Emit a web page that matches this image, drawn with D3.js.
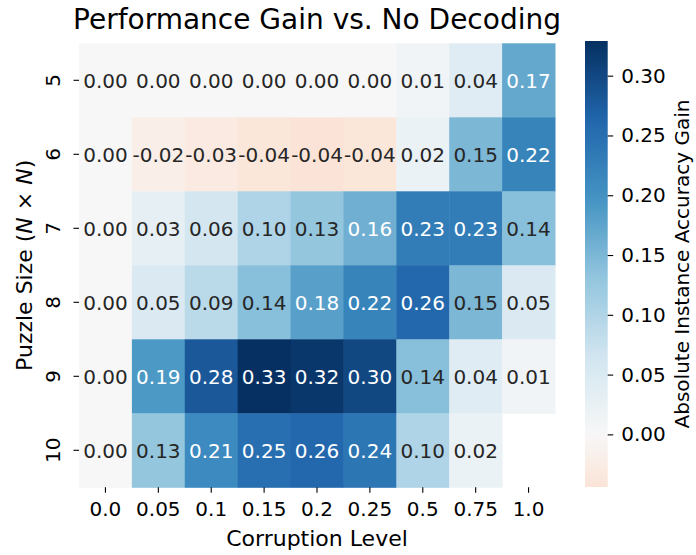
<!DOCTYPE html>
<html>
<head>
<meta charset="utf-8">
<script src="https://cdn.jsdelivr.net/npm/d3@7"></script>
<style>
  body { margin: 0; background: #fff; }
  svg { display: block; font-family: "DejaVu Sans", sans-serif; }
</style>
</head>
<body>
<div id="chart"></div>
<script>
// corruption levels (columns) and puzzle sizes (rows)
const corruption = ["0.0", "0.05", "0.1", "0.15", "0.2", "0.25", "0.5", "0.75", "1.0"];
const puzzleSizes = ["5", "6", "7", "8", "9", "10"];

// absolute instance accuracy gain, one array per puzzle size (null = missing)
const gain5  = [0.00, 0.00, 0.00, 0.00, 0.00, 0.00, 0.01, 0.04, 0.17];
const gain6  = [0.00, -0.02, -0.03, -0.04, -0.044, -0.04, 0.02, 0.15, 0.22];
const gain7  = [0.00, 0.03, 0.06, 0.10, 0.13, 0.16, 0.23, 0.23, 0.14];
const gain8  = [0.00, 0.05, 0.09, 0.14, 0.18, 0.22, 0.26, 0.15, 0.05];
const gain9  = [0.00, 0.19, 0.28, 0.329, 0.32, 0.30, 0.14, 0.04, 0.01];
const gain10 = [0.00, 0.13, 0.21, 0.25, 0.26, 0.24, 0.10, 0.02, null];
const gains = [gain5, gain6, gain7, gain8, gain9, gain10];

const cbarTicks = [0.00, 0.05, 0.10, 0.15, 0.20, 0.25, 0.30];

const width = 696, height = 555;
const margin = { left: 79, top: 43.3, right: 555, bottom: 487.3 };

const cells = [];
gains.forEach((row, i) => row.forEach((v, j) => {
    if (v !== null) cells.push({ row: puzzleSizes[i], col: corruption[j], value: v });
}));

const x = d3.scaleBand().domain(corruption).range([margin.left, margin.right]);
const y = d3.scaleBand().domain(puzzleSizes).range([margin.top, margin.bottom]);

// RdBu, re-centred on zero the way seaborn does with center=0
const rdbu = ["#67001f", "#b2182b", "#d6604d", "#f4a582", "#fddbc7", "#f7f7f7",
    "#d1e5f0", "#92c5de", "#4393c3", "#2166ac", "#053061"];
const cmap = d3.scaleLinear()
    .domain(d3.range(11).map(i => i / 10))
    .range(rdbu)
    .interpolate(d3.interpolateRgb);
const [vmin, vmax] = d3.extent(cells, d => d.value);
const vrange = Math.max(vmax, -vmin);
const norm = d3.scaleLinear().domain([-vrange, vrange]).range([0, 1]);
const color = v => cmap(norm(v));

function textColor(c) {
    const rgb = d3.rgb(c);
    const lin = [rgb.r, rgb.g, rgb.b].map(u => {
        u /= 255;
        return u <= 0.03928 ? u / 12.92 : Math.pow((u + 0.055) / 1.055, 2.4);
    });
    const lum = 0.2126 * lin[0] + 0.7152 * lin[1] + 0.0722 * lin[2];
    return lum > 0.408 ? "#262626" : "#ffffff";
}

const svg = d3.select("#chart").append("svg")
    .attr("width", width)
    .attr("height", height);

svg.append("rect").attr("width", width).attr("height", height).attr("fill", "#fff");

// cells
svg.append("g")
    .selectAll("rect")
    .data(cells)
    .join("rect")
    .attr("x", d => x(d.col))
    .attr("y", d => y(d.row))
    .attr("width", x.bandwidth() + 0.5)
    .attr("height", y.bandwidth() + 0.5)
    .attr("fill", d => color(d.value));

// annotations
svg.append("g")
    .style("font-size", "20px")
    .attr("text-anchor", "middle")
    .selectAll("text")
    .data(cells)
    .join("text")
    .attr("x", d => x(d.col) + x.bandwidth() / 2)
    .attr("y", d => y(d.row) + y.bandwidth() / 2)
    .attr("dy", "0.36em")
    .attr("fill", d => textColor(color(d.value)))
    .text(d => d.value.toFixed(2));

// x axis
const xAxis = svg.append("g")
    .attr("transform", `translate(0,${margin.bottom})`)
    .call(d3.axisBottom(x).tickSize(5.5).tickPadding(9));
xAxis.select(".domain").remove();
xAxis.selectAll("line").attr("stroke", "#000").attr("stroke-width", 1.1);
xAxis.selectAll("text")
    .attr("fill", "#000")
    .style("font-size", "20px")
    .style("font-family", "DejaVu Sans");

// y axis (rotated tick labels)
const yAxis = svg.append("g")
    .attr("transform", `translate(${margin.left},0)`)
    .call(d3.axisLeft(y).tickSize(5.5).tickFormat(""));
yAxis.select(".domain").remove();
yAxis.selectAll("line").attr("stroke", "#000").attr("stroke-width", 1.1);
svg.append("g")
    .style("font-size", "20px")
    .attr("text-anchor", "middle")
    .selectAll("text")
    .data(puzzleSizes)
    .join("text")
    .attr("transform", d => `translate(60,${y(d) + y.bandwidth() / 2}) rotate(-90)`)
    .text(d => d);

// titles
svg.append("text")
    .attr("x", (margin.left + margin.right) / 2)
    .attr("y", 28.5)
    .attr("text-anchor", "middle")
    .style("font-size", "28px")
    .text("Performance Gain vs. No Decoding");

svg.append("text")
    .attr("x", (margin.left + margin.right) / 2)
    .attr("y", 545.5)
    .attr("text-anchor", "middle")
    .style("font-size", "22px")
    .text("Corruption Level");

const ylab = svg.append("text")
    .attr("transform", `translate(31.5,${(margin.top + margin.bottom) / 2}) rotate(-90)`)
    .attr("text-anchor", "middle")
    .style("font-size", "22px");
ylab.append("tspan").text("Puzzle Size (");
ylab.append("tspan").attr("font-style", "italic").text("N");
ylab.append("tspan").text(" \u00d7 ");
ylab.append("tspan").attr("font-style", "italic").text("N");
ylab.append("tspan").text(")");

// colorbar
const cb = { x: 585, w: 22.7, top: 41, bottom: 487 };
const cy = d3.scaleLinear().domain([vmin, vmax]).range([cb.bottom, cb.top]);

const grad = svg.append("defs").append("linearGradient")
    .attr("id", "cbar")
    .attr("x1", 0).attr("y1", 1).attr("x2", 0).attr("y2", 0);
grad.selectAll("stop")
    .data(d3.range(0, 1.0001, 0.02))
    .join("stop")
    .attr("offset", t => t)
    .attr("stop-color", t => color(vmin + t * (vmax - vmin)));

svg.append("rect")
    .attr("x", cb.x)
    .attr("y", cb.top)
    .attr("width", cb.w)
    .attr("height", cb.bottom - cb.top)
    .attr("fill", "url(#cbar)");

const cAxis = svg.append("g")
    .attr("transform", `translate(${cb.x + cb.w},0)`)
    .call(d3.axisRight(cy).tickValues(cbarTicks).tickFormat(d3.format(".2f")).tickSize(5.5).tickPadding(8));
cAxis.select(".domain").remove();
cAxis.selectAll("line").attr("stroke", "#000").attr("stroke-width", 1.1);
cAxis.selectAll("text")
    .attr("fill", "#000")
    .style("font-size", "20px")
    .style("font-family", "DejaVu Sans");

svg.append("text")
    .attr("transform", `translate(689,${(cb.top + cb.bottom) / 2}) rotate(-90)`)
    .attr("text-anchor", "middle")
    .style("font-size", "20px")
    .text("Absolute Instance Accuracy Gain");
</script>
</body>
</html>
